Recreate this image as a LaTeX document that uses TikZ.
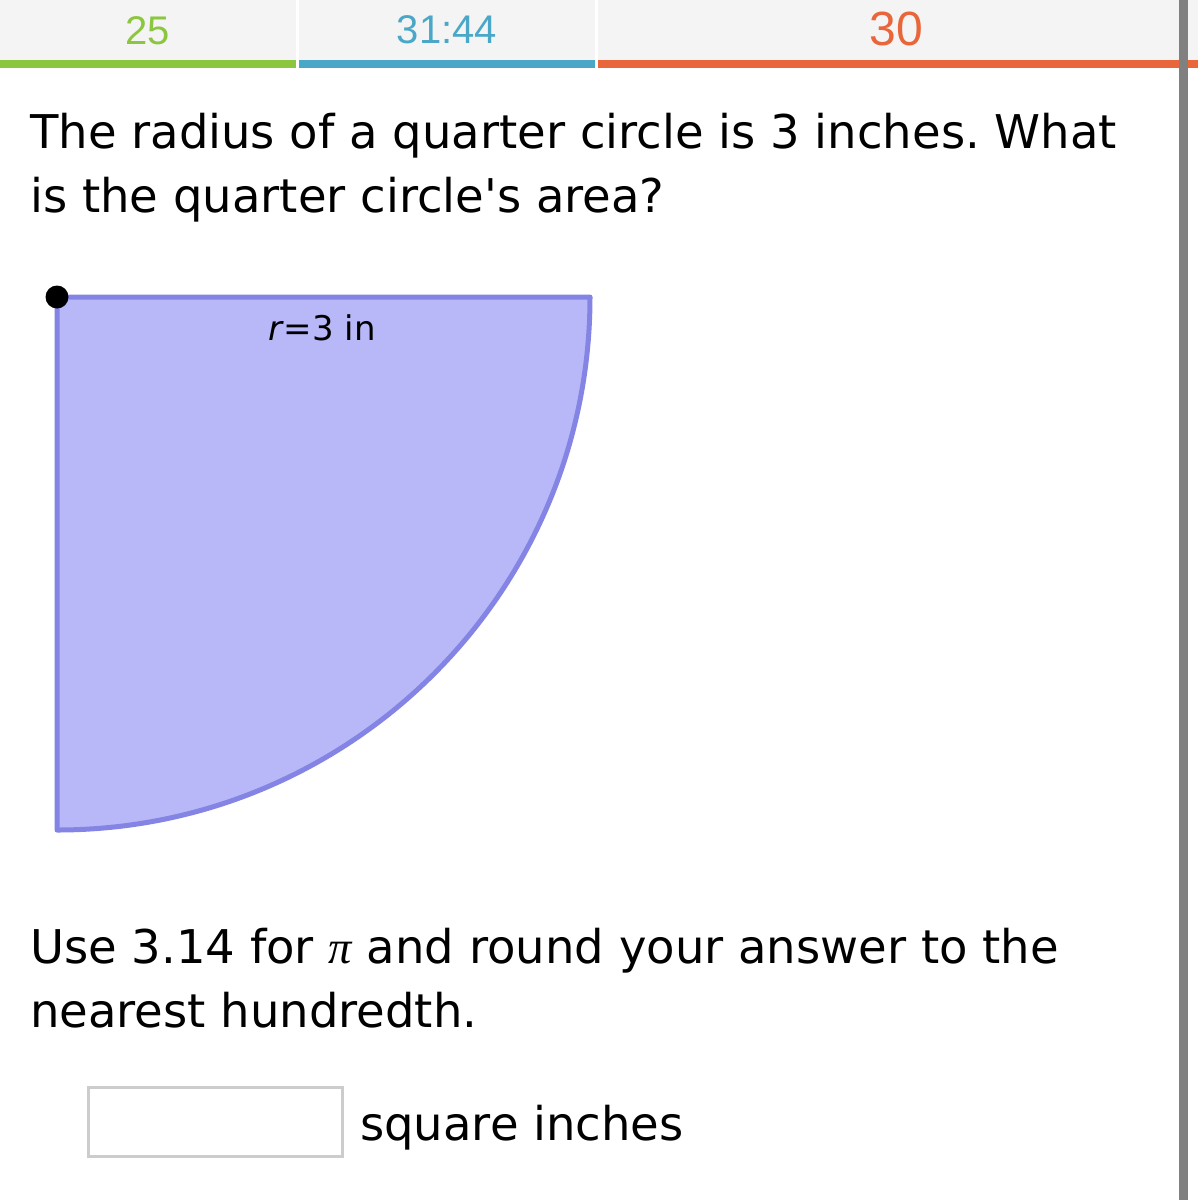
\documentclass[tikz,border=0pt]{standalone}
\usepackage{fontspec}
\setmainfont{DejaVu Sans}[Ligatures=TeXOff]
\newfontfamily\numfont{Liberation Sans}
\newfontfamily\pifont{Liberation Serif}
\definecolor{topbg}{HTML}{F4F4F4}
\definecolor{cgreen}{HTML}{8CC63F}
\definecolor{cblue}{HTML}{4BA7C8}
\definecolor{corange}{HTML}{E8663A}
\definecolor{shapefill}{HTML}{B8B8F8}
\definecolor{shapeline}{HTML}{8484E4}
\definecolor{boxline}{HTML}{CCCCCC}
\definecolor{scrollgray}{HTML}{808080}
\frenchspacing
\tikzset{
  bigtext/.style={font=\fontsize{46.5}{64}\selectfont, anchor=base west, inner sep=0pt, align=left},
  topnum/.style={font=\numfont\fontsize{40}{40}\selectfont, inner sep=0pt},
}
\begin{document}
\begin{tikzpicture}[x=1pt,y=-1pt]
\useasboundingbox (0,0) rectangle (1198,1200);
\fill[white] (0,0) rectangle (1198,1200);
% top bar
\fill[topbg] (0,0) rectangle (1198,60);
\fill[white] (296,0) rectangle (299,68);
\fill[white] (595,0) rectangle (598,68);
\fill[cgreen] (0,60) rectangle (296,68);
\fill[cblue] (299,60) rectangle (595,68);
\fill[corange] (598,60) rectangle (1198,68);
\node[topnum, text=cgreen] (score) at (148,31) {25};
\node[topnum, text=cblue] (time) at (447,30) {31:44};
\node[topnum, text=corange, font=\numfont\fontsize{48}{48}\selectfont] (smart) at (896,29) {30};
% scrollbar
\fill[scrollgray] (1179,0) rectangle (1188,1200);
% question
\node[bigtext] (q1) at (30,148) {The radius of a quarter circle is 3 inches. What};
\node[bigtext] (q2) at (30,212) {is the quarter circle's area?};
% quarter circle
\draw[shapeline, fill=shapefill, line width=5pt, line join=round]
  (57,297) -- (590,297) arc[start angle=0, end angle=90, radius=533] -- cycle;
\coordinate (center) at (57,297);
\fill[black] (center) circle[radius=11.5];
\node[font=\fontsize{34}{34}\selectfont, anchor=base, inner sep=0pt] (lbl) at (322,340) {\textit{r}=3 in};
% instructions
\node[bigtext] (u1) at (30,963) {Use 3.14 for {\pifont\itshape π} and round your answer to the};
\node[bigtext] (u2) at (30,1027) {nearest hundredth.};
% answer
\node[draw=boxline, line width=3pt, minimum width=254pt, minimum height=69pt, inner sep=0pt, fill=white] (box) at (215.5,1122) {};
\node[bigtext] (unit) at (360,1140) {square inches};
\end{tikzpicture}
\end{document}
